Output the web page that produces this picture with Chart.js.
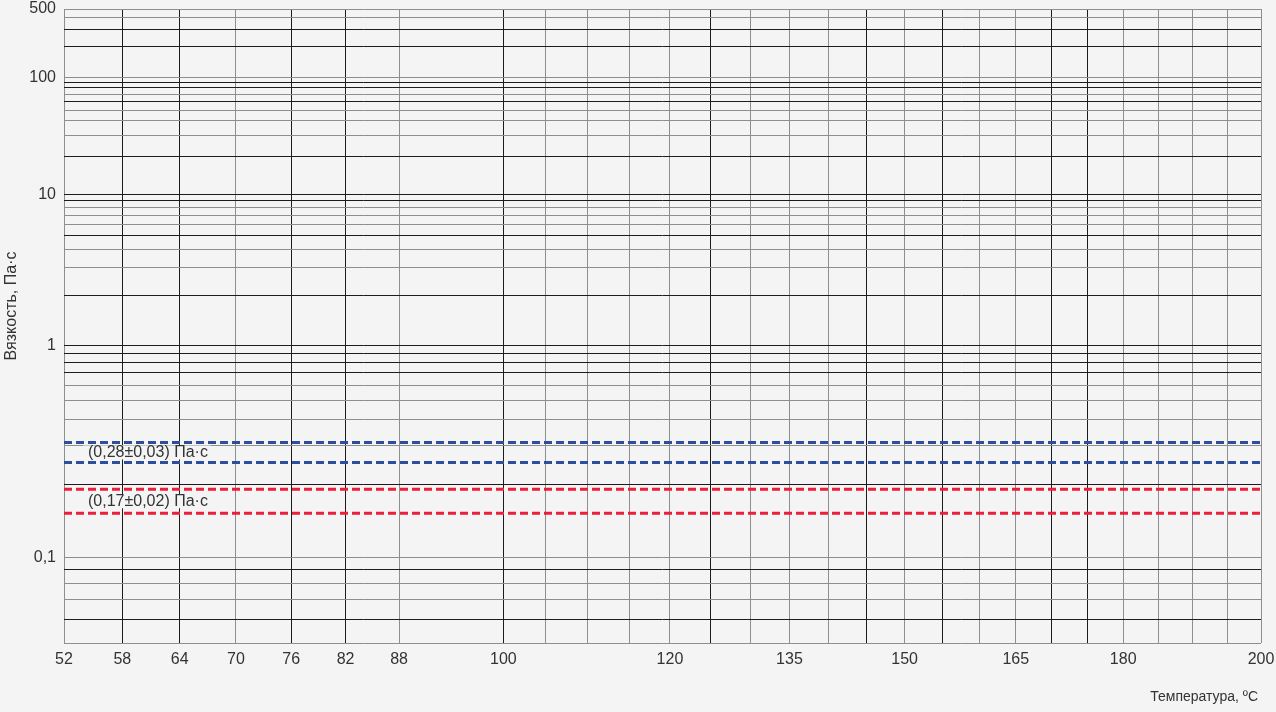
<!DOCTYPE html>
<html>
<head>
<meta charset="utf-8">
<script src="https://cdn.jsdelivr.net/npm/chart.js@4.4.1/dist/chart.umd.min.js"></script>
<style>
  html, body { margin: 0; padding: 0; background: #f4f4f4; }
  #wrap { width: 1276px; height: 712px; }
</style>
</head>
<body>
<div id="wrap"><canvas id="c" width="1276" height="712"></canvas></div>
<script>
// ---- data ----
const xTickLabels = [52, 58, 64, 70, 76, 82, 88, 100, 120, 135, 150, 165, 180, 200];
const xGridTemps = [52, 58, 64, 70, 76, 82, 88, 100, 105, 110, 115, 120, 125, 130, 135, 140, 145,
                    150, 155, 160, 165, 170, 175, 180, 185, 190, 195, 200];
const yTickLabels = [500, 100, 10, 1, 0.1];
const yGridValues = [0.05, 0.06, 0.07, 0.08, 0.09, 0.1, 0.2, 0.3, 0.4, 0.5, 0.6, 0.7, 0.8, 0.9,
                     1, 2, 3, 4, 5, 6, 7, 8, 9, 10, 20, 30, 40, 50, 60, 70, 80, 90,
                     100, 200, 300, 400, 500];
const bandNominal = [0.28, 0.17];
const bandTolerance = [0.03, 0.02];
const bandLabels = ['(0,28±0,03) Па·с', '(0,17±0,02) Па·с'];
const tempRange = [52, 200];
const viscRange = [0.05, 500];

// darker grid lines (as they appear in the reference)
const darkX = [58, 64, 76, 82, 100, 125, 145, 155, 170, 175];
const darkY = [300, 200, 90, 80, 60, 20, 10, 9, 5, 2, 1, 0.9, 0.8, 0.7, 0.2, 0.09, 0.06];

// ---- scale transforms: x = log(T in K), y = log(log(viscosity in mPa·s)) ----
const X = t => Math.log10(t + 273.15);
const Y = v => Math.log10(Math.log10(v * 1000));

const bandColors = ['#2e4d9c', '#ec1f3b'];
const datasets = [];
bandNominal.forEach((n, i) => {
  [n + bandTolerance[i], n - bandTolerance[i]].forEach(v => {
    datasets.push({
      data: [{x: X(tempRange[0]), y: Y(v)}, {x: X(tempRange[1]), y: Y(v)}],
      showLine: true, borderColor: bandColors[i], borderWidth: 3,
      borderDash: [8, 4], pointRadius: 0, fill: false
    });
  });
});

const BG = '#f4f4f4';
const FONT = '"Liberation Sans", Arial, sans-serif';

const bgPlugin = {
  id: 'bg',
  beforeDraw(chart) {
    const ctx = chart.ctx;
    ctx.save(); ctx.fillStyle = BG; ctx.fillRect(0, 0, chart.width, chart.height); ctx.restore();
  }
};

const labelsPlugin = {
  id: 'labels',
  afterDatasetsDraw(chart) {
    const ctx = chart.ctx, ys = chart.scales.y, ca = chart.chartArea;
    ctx.save();
    ctx.font = '16px ' + FONT;
    ctx.textBaseline = 'middle';
    bandNominal.forEach((n, i) => {
      const y1 = ys.getPixelForValue(Y(n + bandTolerance[i]));
      const y2 = ys.getPixelForValue(Y(n - bandTolerance[i]));
      const yc = (y1 + y2) / 2;
      const x = ca.left + 24;
      const w = ctx.measureText(bandLabels[i]).width;
      ctx.fillStyle = BG;
      ctx.fillRect(x - 5, yc - 7, w + 8, 14);
      ctx.fillStyle = '#333';
      ctx.fillText(bandLabels[i], x, yc);
    });
    // axis titles
    ctx.fillStyle = '#333';
    ctx.font = '14px ' + FONT;
    ctx.textAlign = 'right';
    ctx.fillText('Температура, ºC', 1258, 697);
    ctx.save();
    ctx.font = '16px ' + FONT;
    ctx.translate(12, 306);
    ctx.rotate(-Math.PI / 2);
    ctx.textAlign = 'center';
    ctx.fillText('Вязкость, Па·с', 0, 0);
    ctx.restore();
    ctx.restore();
  }
};

const near = (a, b) => Math.abs(a - b) < 1e-9;
const fmt = v => String(v).replace('.', ',');

new Chart(document.getElementById('c'), {
  type: 'scatter',
  data: { datasets },
  plugins: [bgPlugin, labelsPlugin],
  options: {
    responsive: false,
    animation: false,
    events: [],
    layout: { padding: { top: 9, right: 15, left: 0, bottom: 0 } },
    plugins: { legend: { display: false }, tooltip: { enabled: false } },
    scales: {
      x: {
        type: 'linear',
        min: X(tempRange[0]), max: X(tempRange[1]),
        afterBuildTicks: s => { s.ticks = xGridTemps.map(t => ({ value: X(t) })); },
        afterFit: s => { s.height = 69; s.paddingLeft = 0; s.paddingRight = 0; },
        grid: {
          drawTicks: false,
          lineWidth: 1,
          color: c => {
            const t = xGridTemps[c.index];
            return darkX.includes(t) ? '#1c1c1c' : '#8e8e8e';
          }
        },
        border: { display: false },
        ticks: {
          autoSkip: false, maxRotation: 0, minRotation: 0, padding: 7,
          color: '#333', font: { family: FONT, size: 16 },
          callback: (v, i) => xTickLabels.includes(xGridTemps[i]) ? String(xGridTemps[i]) : ''
        }
      },
      y: {
        type: 'linear',
        min: Y(viscRange[0]), max: Y(viscRange[1]),
        afterBuildTicks: s => { s.ticks = yGridValues.map(v => ({ value: Y(v) })); },
        afterFit: s => { s.width = 64; s.paddingTop = 0; s.paddingBottom = 0; },
        grid: {
          drawTicks: false,
          lineWidth: 1,
          color: c => {
            const v = yGridValues[c.index];
            return darkY.some(d => near(d, v)) ? '#1c1c1c' : '#8e8e8e';
          }
        },
        border: { display: false },
        ticks: {
          autoSkip: false, padding: 8,
          color: '#333', font: { family: FONT, size: 16 },
          callback: (v, i) => {
            const val = yGridValues[i];
            return yTickLabels.some(d => near(d, val)) ? fmt(val) : '';
          }
        }
      }
    }
  }
});
</script>
</body>
</html>
